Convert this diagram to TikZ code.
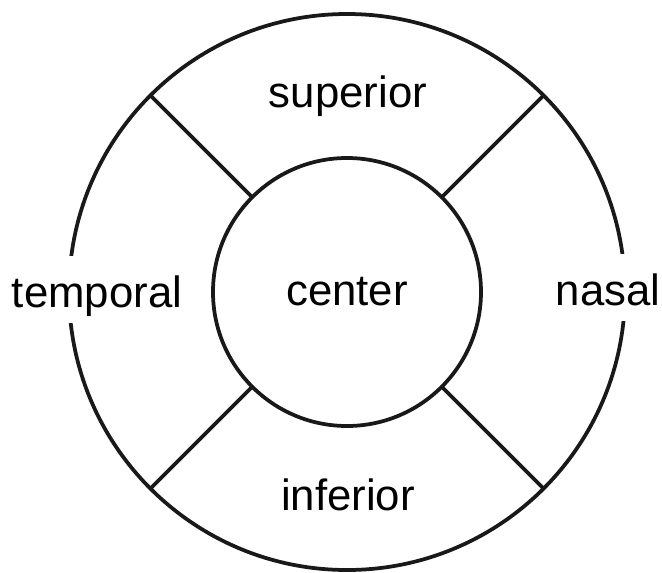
\documentclass[tikz,border=0pt]{standalone}
\usepackage{fontspec}
\setmainfont{Liberation Sans}
\usetikzlibrary{positioning}

\begin{document}
\begin{tikzpicture}[x=0.02cm,y=0.02cm,
  ring/.style={line width=0.075cm,black!90},
  region/.style={font=\fontsize{24.9}{30}\selectfont,anchor=base,inner sep=0pt},
  gaplab/.style={region,fill=white,text height=1.02cm,text depth=0.32cm}]

\useasboundingbox (-347,-280) rectangle (315,292);

\coordinate (c) at (0,0);
\draw[ring] (c) circle (278);
\draw[ring] (c) circle (134);
\foreach \a in {45,135,225,315}
  \draw[ring] (\a:134) -- (\a:278);

\node[region] (sup) at (1,185) {superior};
\node[region] (ctr) at (0,-13) {center};
\node[region] (inf) at (1,-218) {inferior};
\node[gaplab] (tmp) at (-250,-15) {temporal};
\node[gaplab] (nas) at (261,-13) {nasal};
\end{tikzpicture}
\end{document}
